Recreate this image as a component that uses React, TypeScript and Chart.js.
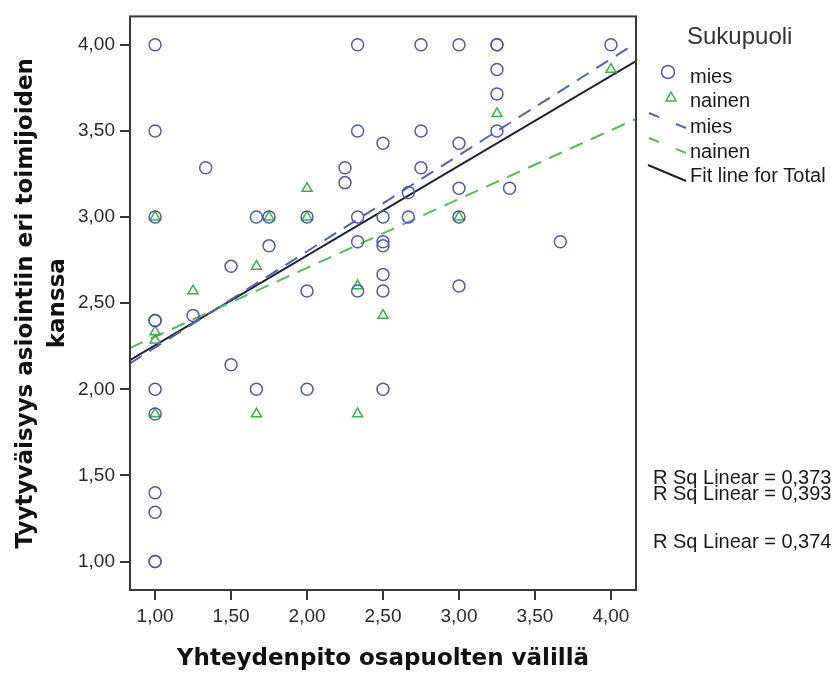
import React, { useEffect, useRef } from "react";
import { Chart, registerables } from "chart.js";

Chart.register(...registerables);

// ---- data ----
const xTicks = [1, 1.5, 2, 2.5, 3, 3.5, 4];
const yTicks = [1, 1.5, 2, 2.5, 3, 3.5, 4];

const miesX = [1, 1, 1, 1, 1, 1, 1, 1, 1, 1, 1, 1.25, 1.333, 1.5, 1.5, 1.667, 1.667, 1.75, 1.75, 2, 2, 2, 2.25, 2.25, 2.333, 2.333, 2.333, 2.333, 2.333, 2.5, 2.5, 2.5, 2.5, 2.5, 2.5, 2.5, 2.667, 2.667, 2.75, 2.75, 2.75, 3, 3, 3, 3, 3, 3.25, 3.25, 3.25, 3.25, 3.25, 3.333, 3.667, 4];
const miesY = [4, 3.5, 3, 2.4, 2.4, 2, 1.857, 1.4, 1.286, 1, 1, 2.429, 3.286, 2.714, 2.143, 3, 2, 3, 2.833, 3, 2.571, 2, 3.286, 3.2, 4, 3.5, 3, 2.857, 2.571, 3.429, 3, 2.857, 2.833, 2.667, 2.571, 2, 3.143, 3, 4, 3.5, 3.286, 4, 3.429, 3.167, 3, 2.6, 4, 4, 3.857, 3.714, 3.5, 3.167, 2.857, 4];

const nainenX = [1, 1, 1, 1, 1.25, 1.667, 1.667, 1.75, 2, 2, 2.333, 2.333, 2.5, 3, 3.25, 4];
const nainenY = [3, 2.333, 2.286, 1.857, 2.571, 2.714, 1.857, 3, 3.167, 3, 2.6, 1.857, 2.429, 3, 3.6, 3.857];

// fit lines (end points across the axis range)
const fitX = [0.835, 4.165];
const miesFitY = [2.15, 4.01];
const nainenFitY = [2.24, 3.57];
const totalFitY = [2.17, 3.905];

const legendTitle = "Sukupuoli";
const legendLabels = ["mies", "nainen", "mies", "nainen", "Fit line for Total"];
const rsqLabels = ["R Sq Linear = 0,373", "R Sq Linear = 0,393", "R Sq Linear = 0,374"];

const xTitle = "Yhteydenpito osapuolten välillä";
const yTitle = ["Tyytyväisyys asiointiin eri toimijoiden", "kanssa"];

// ---- styles ----
const MIES = "#4f5ba8";
const NAINEN = "#3fae4c";
const MIES_LINE = "#5564b0";
const NAINEN_LINE = "#5cb85c";
const TOTAL_LINE = "#1d2138";
const SANS = "'Liberation Sans', Arial, sans-serif";
const TITLE_FONT = "'DejaVu Sans', Verdana, sans-serif";

const fmt = (v: number) => v.toFixed(2).replace(".", ",");

const pts = (xs: number[], ys: number[]) => xs.map((x, i) => ({ x, y: ys[i] }));

const framePlugin = {
  id: "frame",
  afterDatasetsDraw(chart: any) {
    const { ctx, chartArea: a } = chart;
    ctx.save();
    ctx.strokeStyle = "#383838";
    ctx.lineWidth = 2;
    ctx.strokeRect(a.left, a.top, a.right - a.left, a.bottom - a.top);
    ctx.restore();
  },
};

const legendPlugin = {
  id: "spssLegend",
  afterDraw(chart: any) {
    const { ctx } = chart;
    ctx.save();
    ctx.textBaseline = "middle";
    ctx.textAlign = "left";
    ctx.fillStyle = "#333";
    ctx.font = `24px ${SANS}`;
    ctx.fillText(legendTitle, 687, 37);

    ctx.font = `20px ${SANS}`;
    ctx.fillStyle = "#1a1a1a";
    const ys = [77, 101, 127, 152, 176];
    legendLabels.forEach((t, i) => ctx.fillText(t, 690, ys[i]));

    // circle
    ctx.strokeStyle = MIES;
    ctx.lineWidth = 1.5;
    ctx.beginPath();
    ctx.arc(668, 72, 6.5, 0, Math.PI * 2);
    ctx.stroke();
    // triangle
    ctx.strokeStyle = NAINEN;
    ctx.beginPath();
    ctx.moveTo(671, 92);
    ctx.lineTo(676, 101);
    ctx.lineTo(666, 101);
    ctx.closePath();
    ctx.stroke();
    // dashed lines (diagonal)
    ctx.lineWidth = 2;
    ctx.setLineDash([11, 18]);
    ctx.strokeStyle = MIES_LINE;
    ctx.beginPath();
    ctx.moveTo(649, 113);
    ctx.lineTo(686, 128);
    ctx.stroke();
    ctx.strokeStyle = NAINEN_LINE;
    ctx.beginPath();
    ctx.moveTo(649, 138);
    ctx.lineTo(686, 153);
    ctx.stroke();
    ctx.setLineDash([]);
    ctx.strokeStyle = TOTAL_LINE;
    ctx.beginPath();
    ctx.moveTo(648, 165);
    ctx.lineTo(686, 181);
    ctx.stroke();

    // R squared annotations
    ctx.font = `20px ${SANS}`;
    ctx.fillStyle = "#1a1a1a";
    ctx.textBaseline = "alphabetic";
    const bl = [484, 500, 548];
    rsqLabels.forEach((t, i) => ctx.fillText(t, 653, bl[i]));
    ctx.restore();
  },
};

export default function App() {
  const ref = useRef<HTMLCanvasElement | null>(null);

  useEffect(() => {
    if (!ref.current) return;
    const tickFont = { family: SANS, size: 19 };
    const chart = new Chart(ref.current, {
      type: "scatter",
      data: {
        datasets: [
          {
            label: "mies",
            data: pts(miesX, miesY),
            pointStyle: "circle",
            pointRadius: 6,
            pointBorderWidth: 1.5,
            pointBorderColor: MIES,
            pointBackgroundColor: "rgba(0,0,0,0)",
            showLine: false,
            order: 0,
          },
          {
            label: "nainen",
            data: pts(nainenX, nainenY),
            pointStyle: "triangle",
            pointRadius: 5.8,
            pointBorderWidth: 1.5,
            pointBorderColor: NAINEN,
            pointBackgroundColor: "rgba(0,0,0,0)",
            showLine: false,
            order: 0,
          },
          {
            label: "mies fit",
            data: pts(fitX, miesFitY),
            showLine: true,
            borderColor: MIES_LINE,
            borderWidth: 2,
            borderDash: [14, 9],
            pointRadius: 0,
            fill: false,
            order: 1,
          },
          {
            label: "nainen fit",
            data: pts(fitX, nainenFitY),
            showLine: true,
            borderColor: NAINEN_LINE,
            borderWidth: 2,
            borderDash: [14, 9],
            pointRadius: 0,
            fill: false,
            order: 1,
          },
          {
            label: "total fit",
            data: pts(fitX, totalFitY),
            showLine: true,
            borderColor: TOTAL_LINE,
            borderWidth: 2,
            pointRadius: 0,
            fill: false,
            order: 1,
          },
        ] as any,
      },
      options: {
        responsive: false,
        animation: false,
        devicePixelRatio: 1,
        layout: { padding: { left: 0, top: 11, right: 196, bottom: 0 } },
        plugins: {
          legend: { display: false },
          tooltip: { enabled: false },
        },
        scales: {
          x: {
            type: "linear",
            min: 0.835,
            max: 4.165,
            afterBuildTicks: (s: any) => {
              s.ticks = xTicks.map((v) => ({ value: v }));
            },
            afterFit: (s: any) => {
              s.height = 86;
            },
            ticks: {
              callback: (v: any) => fmt(Number(v)),
              font: tickFont,
              color: "#2a2a2a",
              padding: 5,
              maxRotation: 0,
              autoSkip: false,
            },
            grid: {
              drawOnChartArea: false,
              drawTicks: true,
              tickLength: 10,
              color: "#333",
              lineWidth: 2,
            },
            border: { display: false },
            title: {
              display: true,
              text: xTitle,
              color: "#111",
              font: { family: TITLE_FONT, size: 23, weight: "bold", lineHeight: 1.2 },
              padding: { top: 0, bottom: 3 },
            },
          },
          y: {
            type: "linear",
            min: 0.835,
            max: 4.165,
            afterBuildTicks: (s: any) => {
              s.ticks = yTicks.map((v) => ({ value: v }));
            },
            afterFit: (s: any) => {
              s.width = 130;
            },
            ticks: {
              callback: (v: any) => fmt(Number(v)),
              font: tickFont,
              color: "#2a2a2a",
              padding: 5,
              autoSkip: false,
            },
            grid: {
              drawOnChartArea: false,
              drawTicks: true,
              tickLength: 10,
              color: "#333",
              lineWidth: 2,
            },
            border: { display: false },
            title: {
              display: true,
              text: yTitle,
              color: "#111",
              font: { family: TITLE_FONT, size: 23, weight: "bold", lineHeight: 1.4 },
              padding: { top: 10, bottom: 0 },
            },
          },
        },
      } as any,
      plugins: [framePlugin, legendPlugin],
    });
    return () => chart.destroy();
  }, []);

  return (
    <div style={{ position: "absolute", left: 0, top: 0, width: 832, height: 676, background: "#fff" }}>
      <canvas ref={ref} width={832} height={676} style={{ display: "block", width: 832, height: 676 }} />
    </div>
  );
}
